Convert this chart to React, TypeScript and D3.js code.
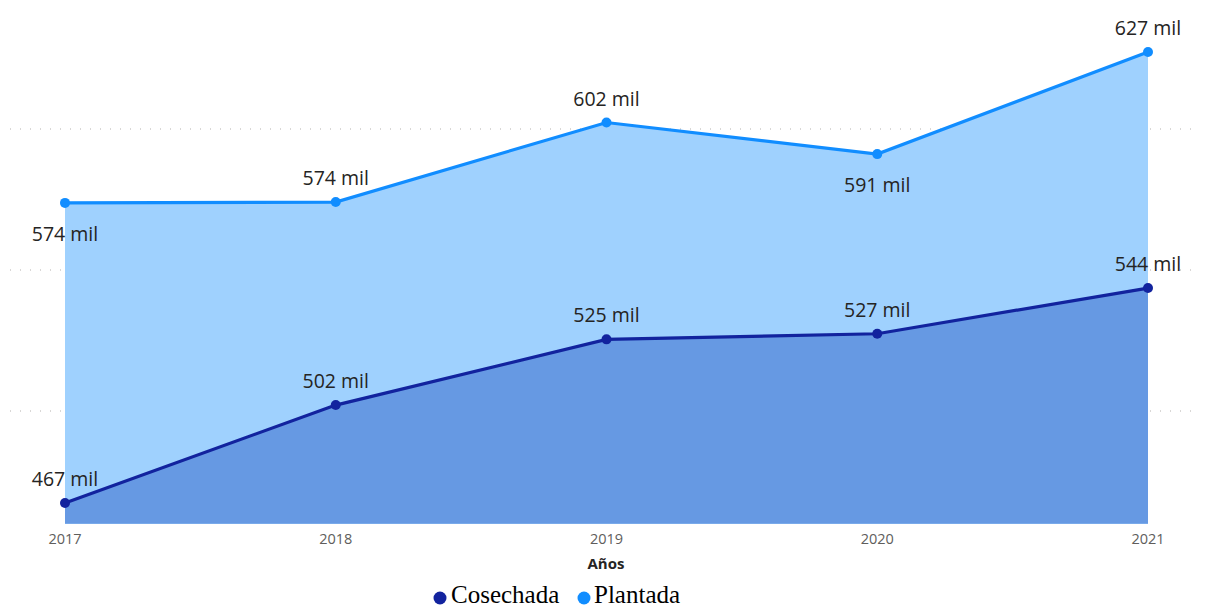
import React from "react";
import * as d3 from "d3";

const years = ["2017", "2018", "2019", "2020", "2021"];
const plantada = [573.8, 574.1, 602.3, 591.1, 627.3];
const cosechada = [467.4, 502.1, 525.4, 527.4, 543.6];
const plantadaLabelBelow = [true, false, false, true, false];
const cosechadaLabelBelow = [false, false, false, false, false];
const gridValues = [500, 550, 600];
const xAxisTitle = "Años";
const legendItems = ["Cosechada", "Plantada"];

const W = 1206;
const H = 608;

export default function App() {
  const x = d3.scalePoint<string>().domain(years).range([65, 1148]);
  const y = d3.scaleLinear().domain([460, 640]).range([523.8, 16.2]);
  const base = y(460);

  const area = d3
    .area<number>()
    .x((_, i) => x(years[i])!)
    .y0(base)
    .y1((d) => y(d));
  const line = d3
    .line<number>()
    .x((_, i) => x(years[i])!)
    .y((d) => y(d));

  const fmt = (v: number) => `${Math.round(v)} mil`;
  const labelFont = "'Segoe UI', 'Open Sans', 'Noto Sans', sans-serif";
  const legendFont = "'Liberation Serif', 'Times New Roman', serif";

  const plColor = "#118DFF";
  const plFill = "#9FD1FE";
  const coColor = "#12239E";
  const coFill = "#6699E3";

  const renderLabels = (vals: number[], below: boolean[]) =>
    vals.map((v, i) => (
      <text
        key={i}
        x={x(years[i])!}
        y={below[i] ? y(v) + 38 : y(v) - 17}
        textAnchor="middle"
        fontFamily={labelFont}
        fontSize={19.5}
        fill="#252423"
      >
        {fmt(v)}
      </text>
    ));

  return (
    <svg
      width={W}
      height={H}
      style={{ position: "absolute", left: 0, top: 0, background: "#fff" }}
    >
      {gridValues.map((g) => (
        <line
          key={g}
          x1={10}
          x2={1200}
          y1={y(g)}
          y2={y(g)}
          stroke="#B3B0AD"
          strokeWidth={1}
          strokeDasharray="1,9"
        />
      ))}
      <path d={area(plantada)!} fill={plFill} />
      <path d={area(cosechada)!} fill={coFill} />
      <path d={line(plantada)!} fill="none" stroke={plColor} strokeWidth={3.2} />
      <path d={line(cosechada)!} fill="none" stroke={coColor} strokeWidth={3.2} />
      {plantada.map((v, i) => (
        <circle key={"p" + i} cx={x(years[i])!} cy={y(v)} r={5} fill={plColor} />
      ))}
      {cosechada.map((v, i) => (
        <circle key={"c" + i} cx={x(years[i])!} cy={y(v)} r={5} fill={coColor} />
      ))}
      {renderLabels(plantada, plantadaLabelBelow)}
      {renderLabels(cosechada, cosechadaLabelBelow)}
      {years.map((yr) => (
        <text
          key={yr}
          x={x(yr)!}
          y={544}
          textAnchor="middle"
          fontFamily={labelFont}
          fontSize={14.5}
          fill="#605E5C"
        >
          {yr}
        </text>
      ))}
      <text
        x={606}
        y={569}
        textAnchor="middle"
        fontFamily={labelFont}
        fontSize={15}
        fontWeight="bold"
        fill="#252423"
      >
        {xAxisTitle}
      </text>
      <g>
        <circle cx={440} cy={598} r={6.5} fill={coColor} />
        <text x={451} y={603} fontFamily={legendFont} fontSize={25} fill="#000">
          {legendItems[0]}
        </text>
        <circle cx={584} cy={598} r={6.5} fill={plColor} />
        <text x={594} y={603} fontFamily={legendFont} fontSize={25} fill="#000">
          {legendItems[1]}
        </text>
      </g>
    </svg>
  );
}
